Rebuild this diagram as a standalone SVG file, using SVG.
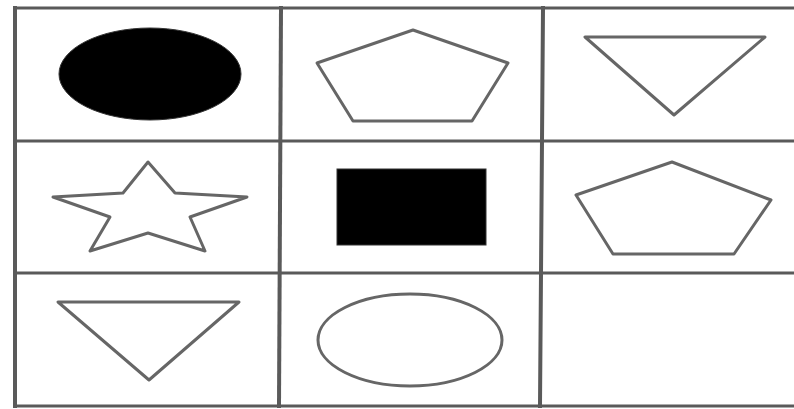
<svg xmlns="http://www.w3.org/2000/svg" width="794" height="409" viewBox="0 0 794 409">
  <style>
    .grid line { stroke: #5a5a5a; stroke-linecap: square; }
    .v { stroke-width: 4; }
    .h { stroke-width: 3; }
    .outline { fill: none; stroke: #666; stroke-width: 3; stroke-linejoin: round; }
    .solid { fill: #000; stroke: #333; stroke-width: 1; }
  </style>
  <rect width="794" height="409" fill="#fff"/>
  <g id="grid" class="grid">
    <line class="h" x1="15" y1="8" x2="794" y2="8"/>
    <line class="h" x1="15" y1="141" x2="794" y2="141"/>
    <line class="h" x1="15" y1="273" x2="794" y2="273"/>
    <line class="h" x1="15" y1="406" x2="794" y2="406"/>
    <line class="v" x1="15" y1="8" x2="15" y2="406"/>
    <line class="v" x1="281" y1="8" x2="279" y2="406"/>
    <line class="v" x1="543" y1="8" x2="540" y2="406"/>
  </g>
  <g id="cell-1-1">
    <ellipse class="solid" cx="150" cy="74" rx="91" ry="46"/>
  </g>
  <g id="cell-1-2">
    <polygon class="outline" points="413,30 508,63 472,121 353,121 317,63"/>
  </g>
  <g id="cell-1-3">
    <polygon class="outline" points="585,37 765,37 674,115"/>
  </g>
  <g id="cell-2-1">
    <polygon class="outline" points="148,162 175,193 247,197 190,217 205,251 148,233 90,251 110,217 53,197 123,193"/>
  </g>
  <g id="cell-2-2">
    <rect class="solid" x="337" y="169" width="149" height="76"/>
  </g>
  <g id="cell-2-3">
    <polygon class="outline" points="672,162 771,200 734,254 613,254 576,195"/>
  </g>
  <g id="cell-3-1">
    <polygon class="outline" points="58,302 239,302 149,380"/>
  </g>
  <g id="cell-3-2">
    <ellipse class="outline" cx="410" cy="340" rx="92" ry="46"/>
  </g>
  <g id="cell-3-3"></g>
</svg>
